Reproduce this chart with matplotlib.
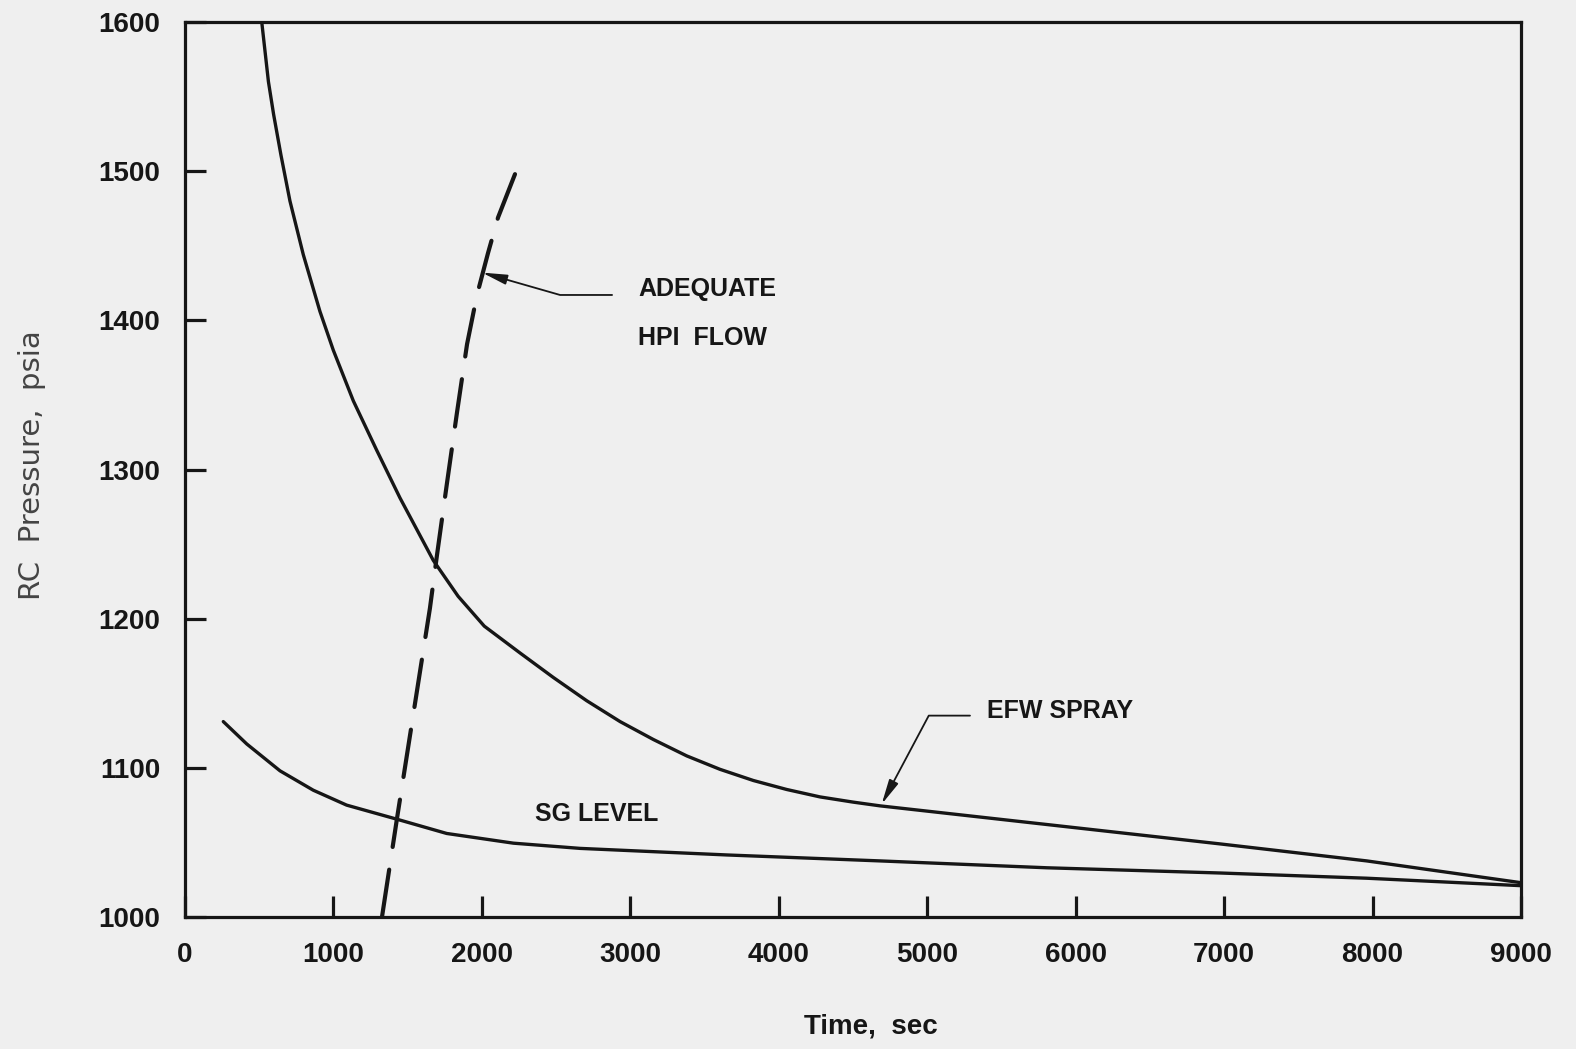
import matplotlib
matplotlib.use("Agg")
import matplotlib.pyplot as plt

# ---- data ----
efw_t = [517, 562, 597, 646, 707, 797, 909, 999, 1134, 1291, 1448, 1673, 1840,
         2016, 2257, 2481, 2706, 2931, 3155, 3380, 3604, 3829, 4053, 4278, 4502,
         4683, 5806, 6973, 7961, 9000]
efw_p = [1600, 1560, 1538, 1511, 1480, 1444, 1406, 1380, 1346, 1313, 1281, 1239, 1215,
         1195, 1177, 1160.6, 1145, 1131, 1119, 1108, 1099, 1091.5, 1085.5, 1080.5, 1077,
         1074.5, 1062, 1049, 1037.6, 1023]

sg_t = [258, 416, 640, 864, 1089, 1426, 1763, 2212, 2661, 3649, 4683, 5806, 6973, 7961, 9000]
sg_p = [1131, 1116, 1098, 1085, 1075, 1065.6, 1056, 1049.5, 1046, 1041.6,
        1037.6, 1033, 1029.5, 1026, 1021]

hpi_t = [1327, 1428, 1650, 1698, 1765, 1832, 1900, 1967, 2041, 2109, 2223]
hpi_p = [1000, 1066, 1207, 1243, 1291, 1338, 1384, 1417, 1445, 1469, 1498]

x_ticks = [0, 1000, 2000, 3000, 4000, 5000, 6000, 7000, 8000, 9000]
y_ticks = [1000, 1100, 1200, 1300, 1400, 1500, 1600]

BG = "#efefef"
INK = "#161616"
FONT = ["Liberation Sans", "DejaVu Sans"]

fig = plt.figure(figsize=(15.76, 10.49), dpi=100, facecolor=BG)
ax = fig.add_axes([185 / 1576, 1 - 917 / 1049, (1521 - 185) / 1576, (917 - 22) / 1049])
ax.set_facecolor(BG)

ax.plot(efw_t, efw_p, color=INK, lw=2.4, solid_capstyle="round", solid_joinstyle="round")
ax.plot(sg_t, sg_p, color=INK, lw=2.4, solid_capstyle="round", solid_joinstyle="round")
ax.plot(hpi_t, hpi_p, color=INK, lw=3.0, linestyle=(0, (11.5, 5.5)), dash_capstyle="round")

ax.set_xlim(0, 9000)
ax.set_ylim(1000, 1600)
ax.set_xticks(x_ticks)
ax.set_yticks(y_ticks)
ax.set_xticklabels([str(v) for v in x_ticks])
ax.set_yticklabels([str(v) for v in y_ticks])

for s in ax.spines.values():
    s.set_linewidth(2.3)
    s.set_color(INK)

ax.tick_params(axis="both", direction="in", length=15, width=2.3, color=INK,
               labelsize=20, labelcolor=INK)
ax.tick_params(axis="x", pad=18)
ax.tick_params(axis="y", pad=18)
for lab in ax.get_xticklabels() + ax.get_yticklabels():
    lab.set_family(FONT)
    lab.set_fontweight("bold")

ax.set_xlabel("Time,  sec", fontsize=20, family=FONT, fontweight="bold", color=INK)
ax.xaxis.set_label_coords(0.5135, -0.108)
ax.set_ylabel("RC  Pressure,  psia", fontsize=21, family=["DejaVu Sans"], color="#444444")
ax.yaxis.set_label_coords(-0.104, 0.505)

# annotations
ax.annotate("", xy=(2001, 1432), xytext=(2877, 1417),
            arrowprops=dict(arrowstyle="-|>,head_length=1.5,head_width=0.3",
                            connectionstyle="angle,angleA=180,angleB=-16,rad=0",
                            color=INK, lw=1.3, shrinkA=0, shrinkB=0))
ax.text(3052, 1421, "ADEQUATE", fontsize=18, family=FONT, fontweight="bold",
        color=INK, va="center", ha="left")
ax.text(3052, 1388, "HPI  FLOW", fontsize=18, family=FONT, fontweight="bold",
        color=INK, va="center", ha="left")

ax.annotate("", xy=(4693, 1075.6), xytext=(5288, 1135),
            arrowprops=dict(arrowstyle="-|>,head_length=1.5,head_width=0.3",
                            connectionstyle="angle,angleA=180,angleB=62,rad=0",
                            color=INK, lw=1.3, shrinkA=0, shrinkB=0))
ax.text(5403, 1138, "EFW SPRAY", fontsize=18, family=FONT, fontweight="bold",
        color=INK, va="center", ha="left")

ax.text(2358, 1069, "SG LEVEL", fontsize=18, family=FONT, fontweight="bold",
        color=INK, va="center", ha="left")

fig.savefig("out.png", dpi=100, facecolor=BG)
